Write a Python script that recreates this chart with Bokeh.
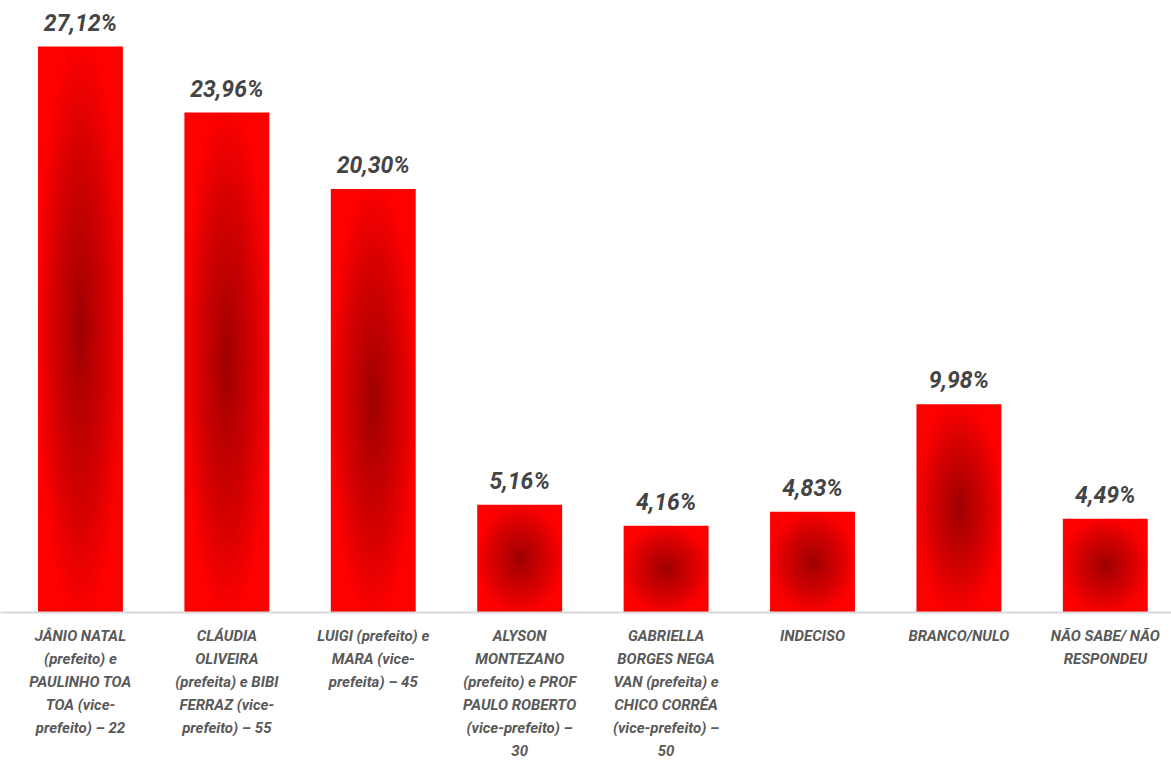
import numpy as np
from bokeh.plotting import figure
from bokeh.models import ColumnDataSource, FixedTicker, Range1d
from bokeh.core.properties import value
from bokeh.embed import file_html
from bokeh.resources import INLINE

categories = [
    "JÂNIO NATAL\n(prefeito) e\nPAULINHO TOA\nTOA (vice-\nprefeito) – 22",
    "CLÁUDIA\nOLIVEIRA\n(prefeita) e BIBI\nFERRAZ (vice-\nprefeito) – 55",
    "LUIGI (prefeito) e\nMARA (vice-\nprefeita) – 45",
    "ALYSON\nMONTEZANO\n(prefeito) e PROF\nPAULO ROBERTO\n(vice-prefeito) –\n30",
    "GABRIELLA\nBORGES NEGA\nVAN (prefeita) e\nCHICO CORRÊA\n(vice-prefeito) –\n50",
    "INDECISO",
    "BRANCO/NULO",
    "NÃO SABE/ NÃO\nRESPONDEU",
]
values = [27.12, 23.96, 20.30, 5.16, 4.16, 4.83, 9.98, 4.49]

FONT = "Roboto"
BAR_W = 0.58

xs = list(range(len(values)))
labels = [("%.2f" % v).replace(".", ",") + "%" for v in values]
src = ColumnDataSource(dict(x=xs, top=values, label=labels))

p = figure(width=1171, height=762, output_backend="svg", toolbar_location=None,
           x_range=Range1d(-0.546, 7.452), y_range=Range1d(0, 29.33),
           min_border_left=0, min_border_right=0, min_border_top=0, min_border_bottom=0)
p.outline_line_color = None
p.grid.visible = False
p.yaxis.visible = False

p.vbar(x="x", top="top", width=BAR_W, bottom=0, source=src,
       fill_color="#fd0000", line_color=None)

# radial-style darkening toward each bar's centre, built from layered ellipses
N = 28
gx, gy, gw, gh = [], [], [], []
for x, v in zip(xs, values):
    for k in range(N):
        f = ((N - k) / N) ** 1.4
        gx.append(x)
        gy.append(v / 2)
        gw.append(BAR_W * f)
        gh.append(v * f)
p.ellipse(x=gx, y=gy, width=gw, height=gh, fill_color="#7a0000",
          fill_alpha=0.035, line_color=None)

p.text(x="x", y="top", text="label", source=src, text_align="center",
       text_baseline="bottom", y_offset=-10, text_font=value(FONT),
       text_font_size="23px", text_font_style="bold italic", text_color="#444444")

ax = p.xaxis[0]
ax.ticker = FixedTicker(ticks=xs)
ax.major_label_overrides = {i: c for i, c in zip(xs, categories)}
ax.major_tick_line_color = None
ax.minor_tick_line_color = None
ax.axis_line_color = "#d9d9d9"
ax.axis_line_width = 2
ax.major_label_standoff = 8
ax.major_label_text_font = FONT
ax.major_label_text_font_size = "15px"
ax.major_label_text_font_style = "bold italic"
ax.major_label_text_color = "#595959"
ax.major_label_text_line_height = 1.28

open("out.html", "w").write(file_html(p, INLINE))
